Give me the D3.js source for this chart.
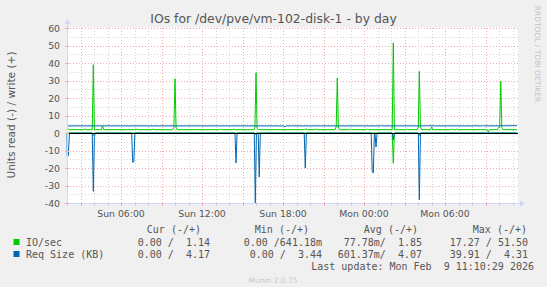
<!DOCTYPE html>
<html>
<head>
<meta charset="utf-8">
<script src="https://cdn.jsdelivr.net/npm/d3@7"></script>
<style>
  body { margin: 0; background: #f0f0f0; }
  svg { display: block; }
  text { font-family: "DejaVu Sans", sans-serif; fill: #555; }
  .mono { font-family: "DejaVu Sans Mono", monospace; font-size: 10px; white-space: pre; }
</style>
</head>
<body>
<div id="chart"></div>
<script>
// time is in hours since Sun 00:00
var yTicks = [-40, -30, -20, -10, 0, 10, 20, 30, 40, 50, 60];
var xTickHours = [6, 12, 18, 24, 30];
var xTickLabels = ["Sun 06:00", "Sun 12:00", "Sun 18:00", "Mon 00:00", "Mon 06:00"];

// IO/sec write (+)
var writeIO = [
  [2.00, 1.9], [2.06, 2.6], [2.15, 1.9],
  [3.25, 1.9], [3.33, 2.4], [3.41, 1.9],
  [3.87, 1.9], [3.95, 39.0], [4.03, 2.0], [4.11, 1.9],
  [4.55, 1.9], [4.63, 4.0], [4.71, 1.9],
  [7.03, 1.9], [7.11, 2.4], [7.19, 1.9],
  [8.29, 1.9], [8.37, 2.3], [8.45, 1.9],
  [9.84, 1.9], [9.92, 3.2], [10.00, 31.0], [10.08, 3.2], [10.16, 1.9],
  [13.31, 1.9], [13.39, 2.3], [13.47, 1.9],
  [14.29, 1.9], [14.37, 2.3], [14.45, 1.9],
  [15.84, 1.9], [15.92, 3.0], [16.00, 34.5], [16.08, 2.8], [16.16, 2.0], [16.30, 1.9],
  [19.62, 1.9], [19.70, 2.5], [19.78, 1.9],
  [20.36, 1.9], [20.44, 2.4], [20.52, 1.9],
  [21.86, 1.9], [21.94, 3.6], [22.02, 31.4], [22.10, 3.4], [22.18, 1.9],
  [22.93, 1.9], [23.01, 2.3], [23.09, 1.9],
  [24.12, 1.9], [24.20, 2.3], [24.28, 1.9],
  [26.09, 1.9], [26.17, 51.5], [26.25, 1.9],
  [27.08, 1.9], [27.16, 2.3], [27.24, 1.9],
  [27.94, 1.9], [28.02, 3.4], [28.10, 35.2], [28.18, 3.4], [28.26, 1.9],
  [28.93, 1.9], [29.01, 3.5], [29.09, 1.9],
  [30.42, 1.9], [30.50, 2.3], [30.58, 1.9], [30.79, 1.9], [30.87, 2.3], [30.95, 1.9],
  [33.13, 1.9], [33.21, 0.64], [33.29, 1.9],
  [33.89, 1.9], [33.97, 3.2], [34.05, 3.2], [34.13, 29.5], [34.21, 3.2], [34.29, 1.9],
  [35.33, 1.9]
];

// IO/sec read (-)
var readIO = [
  [2.00, 0], [3.87, 0], [3.95, 1.5], [4.03, 0],
  [15.92, 0], [16.00, 1.0], [16.08, 0],
  [26.09, 0], [26.17, 17.27], [26.25, 0],
  [28.02, 0], [28.10, 1.5], [28.18, 0],
  [35.33, 0]
];

// Req Size (KB) write (+)
var writeReq = [
  [2.00, 4.05], [5.03, 4.05], [5.11, 4.3], [5.19, 4.05],
  [18.07, 4.05], [18.15, 3.5], [18.23, 4.05], [18.64, 4.05], [18.72, 4.3], [18.80, 4.05],
  [25.23, 4.05], [25.31, 4.3], [25.39, 4.05],
  [28.56, 4.05], [28.64, 4.3], [28.72, 4.1], [28.81, 4.05], [28.89, 4.3], [28.97, 4.05],
  [32.22, 4.05], [32.30, 4.25], [32.38, 4.05], [32.71, 4.05], [32.79, 4.3], [32.87, 4.05],
  [35.33, 4.17]
];

// Req Size (KB) read (-)
var readReq = [
  [2.00, 0], [2.02, 13.4], [2.10, 13.0], [2.18, 0],
  [3.87, 0], [3.95, 33.4], [4.03, 2.0], [4.11, 0],
  [6.79, 0], [6.87, 16.8], [6.95, 16.5], [7.03, 0],
  [14.44, 0], [14.52, 17.1], [14.60, 0],
  [15.87, 0], [15.95, 39.91], [16.03, 0], [16.16, 0], [16.24, 25.1], [16.32, 0],
  [19.57, 0], [19.65, 20.0], [19.73, 0],
  [24.53, 0], [24.61, 22.0], [24.69, 22.9], [24.77, 0], [24.81, 0], [24.89, 8.0], [24.97, 0],
  [26.09, 0], [26.17, 3.8], [26.25, 0],
  [28.02, 0], [28.10, 38.1], [28.18, 0],
  [35.33, 0]
];

var legendNames = ["IO/sec", "Req Size (KB)"];
var legendHeaders = ["Cur (-/+)", "Min (-/+)", "Avg (-/+)", "Max (-/+)"];
var legendIO = ["0.00 /  1.14", "0.00 /641.18m", "77.78m/  1.85", "17.27 / 51.50"];
var legendReq = ["0.00 /  4.17", "0.00 /  3.44", "601.37m/  4.07", "39.91 /  4.31"];

var svgWidth = 547;
var svgHeight = 287;
var plot = { left: 67, right: 517, top: 28, bottom: 203 };
var green = "#00cc00";
var blue = "#0066b3";
var axisColor = "#cfd6f8";
var majorColor = "#f0aaaa";
var minorColor = "#d4d4d4";

var svg = d3.select("#chart")
  .append("svg")
  .attr("width", svgWidth)
  .attr("height", svgHeight);

svg.append("rect")
  .attr("width", svgWidth)
  .attr("height", svgHeight)
  .attr("fill", "#f0f0f0");

var xScale = d3.scaleLinear()
  .domain([2, 35.333])
  .range([plot.left, plot.right]);

var yScale = d3.scaleLinear()
  .domain([-40, 60])
  .range([plot.bottom, plot.top]);

// canvas
svg.append("rect")
  .attr("x", plot.left)
  .attr("y", plot.top - 0.5)
  .attr("width", plot.right - plot.left + 1)
  .attr("height", plot.bottom - plot.top + 0.5)
  .attr("fill", "#ffffff");

var px = function(v) { return Math.round(v) + 0.5; };

// minor grid
var minorY = d3.range(-35, 60, 10);
var minorX = d3.range(3, 36, 1).filter(function(h) { return h % 3 !== 0; });

var grid = svg.append("g");

grid.selectAll(".minorY")
  .data(minorY)
  .enter()
  .append("line")
  .attr("x1", plot.left)
  .attr("x2", plot.right + 1)
  .attr("y1", d => px(yScale(d)))
  .attr("y2", d => px(yScale(d)))
  .attr("stroke", minorColor)
  .attr("stroke-dasharray", "1,2");

grid.selectAll(".minorX")
  .data(minorX)
  .enter()
  .append("line")
  .attr("x1", d => px(xScale(d)))
  .attr("x2", d => px(xScale(d)))
  .attr("y1", plot.top)
  .attr("y2", plot.bottom)
  .attr("stroke", minorColor)
  .attr("stroke-dasharray", "1,2");

// major grid
grid.selectAll(".majorY")
  .data(yTicks)
  .enter()
  .append("line")
  .attr("x1", plot.left)
  .attr("x2", plot.right + 1)
  .attr("y1", d => px(yScale(d)))
  .attr("y2", d => px(yScale(d)))
  .attr("stroke", majorColor)
  .attr("stroke-dasharray", "1,2");

grid.selectAll(".majorX")
  .data(d3.range(3, 36, 3))
  .enter()
  .append("line")
  .attr("x1", d => px(xScale(d)))
  .attr("x2", d => px(xScale(d)))
  .attr("y1", plot.top)
  .attr("y2", plot.bottom)
  .attr("stroke", majorColor)
  .attr("stroke-dasharray", "1,2");

// series
var line = d3.line()
  .x(d => xScale(d[0]))
  .y(d => yScale(d[1]));

var negLine = d3.line()
  .x(d => xScale(d[0]))
  .y(d => yScale(-d[1]));

var series = svg.append("g").attr("fill", "none").attr("stroke-width", 1);

series.append("path").attr("d", negLine(readIO)).attr("stroke", green);
series.append("path").attr("d", line(writeIO)).attr("stroke", green);
series.append("path").attr("d", negLine(readReq)).attr("stroke", blue);
series.append("path").attr("d", line(writeReq)).attr("stroke", blue);

// zero rule
svg.append("line")
  .attr("x1", plot.left)
  .attr("x2", plot.right + 1)
  .attr("y1", px(yScale(0)))
  .attr("y2", px(yScale(0)))
  .attr("stroke", "#000000");

// axes
svg.append("line")
  .attr("x1", plot.left + 0.5)
  .attr("x2", plot.left + 0.5)
  .attr("y1", plot.bottom + 3)
  .attr("y2", plot.top - 5)
  .attr("stroke", axisColor);

svg.append("path")
  .attr("d", `M${plot.left - 2.5},${plot.top - 4} L${plot.left + 3.5},${plot.top - 4} L${plot.left + 0.5},${plot.top - 9} Z`)
  .attr("fill", axisColor);

svg.append("line")
  .attr("x1", plot.left - 3)
  .attr("x2", plot.right + 4)
  .attr("y1", plot.bottom + 0.5)
  .attr("y2", plot.bottom + 0.5)
  .attr("stroke", axisColor);

svg.append("path")
  .attr("d", `M${plot.right + 3},${plot.bottom - 2.5} L${plot.right + 3},${plot.bottom + 3.5} L${plot.right + 8},${plot.bottom + 0.5} Z`)
  .attr("fill", axisColor);

// axis ticks
svg.selectAll(".xtick")
  .data(d3.range(3, 36, 1))
  .enter()
  .append("line")
  .attr("x1", d => px(xScale(d)))
  .attr("x2", d => px(xScale(d)))
  .attr("y1", plot.bottom - 1)
  .attr("y2", plot.bottom + 3)
  .attr("stroke", d => d % 3 === 0 ? majorColor : minorColor);

svg.selectAll(".ytick")
  .data(yTicks)
  .enter()
  .append("line")
  .attr("x1", plot.left - 2)
  .attr("x2", plot.left + 2)
  .attr("y1", d => px(yScale(d)))
  .attr("y2", d => px(yScale(d)))
  .attr("stroke", majorColor);

// tick labels
svg.selectAll(".ylabel")
  .data(yTicks)
  .enter()
  .append("text")
  .attr("x", 60)
  .attr("y", d => yScale(d) + 3.5)
  .attr("text-anchor", "end")
  .style("font-size", "9.3px")
  .text(d => d);

svg.selectAll(".xlabel")
  .data(xTickHours)
  .enter()
  .append("text")
  .attr("x", d => xScale(d))
  .attr("y", 216.5)
  .attr("text-anchor", "middle")
  .style("font-size", "9.3px")
  .text((d, i) => xTickLabels[i]);

// title and side texts
svg.append("text")
  .attr("x", 273.5)
  .attr("y", 23)
  .attr("text-anchor", "middle")
  .style("font-size", "12.4px")
  .text("IOs for /dev/pve/vm-102-disk-1 - by day");

svg.append("text")
  .attr("transform", "translate(14.5, 115) rotate(-90)")
  .attr("text-anchor", "middle")
  .style("font-size", "10.6px")
  .text("Units read (-) / write (+)");

svg.append("text")
  .attr("transform", "translate(535, 54) rotate(90)")
  .attr("text-anchor", "middle")
  .style("font-size", "7.5px")
  .style("fill", "#c4c4c4")
  .text("RRDTOOL / TOBI OETIKER");

// legend
var valueEnds = [210, 322, 422, 528];
var headerEnds = [201, 309, 418, 527];

svg.selectAll(".lhead")
  .data(legendHeaders)
  .enter()
  .append("text")
  .attr("class", "mono")
  .attr("x", (d, i) => headerEnds[i])
  .attr("y", 232.5)
  .attr("text-anchor", "end")
  .text(d => d);

var rows = [legendIO, legendReq];
var colors = [green, blue];

rows.forEach(function(vals, r) {
  var y = 245.5 + r * 12;
  svg.append("rect")
    .attr("x", 13.5)
    .attr("y", y - 6.5)
    .attr("width", 6)
    .attr("height", 6)
    .attr("fill", colors[r]);
  svg.append("text")
    .attr("class", "mono")
    .attr("x", 26)
    .attr("y", y)
    .text(legendNames[r]);
  svg.selectAll(".lrow" + r)
    .data(vals)
    .enter()
    .append("text")
    .attr("class", "mono")
    .attr("x", (d, i) => valueEnds[i])
    .attr("y", y)
    .attr("text-anchor", "end")
    .text(d => d);
});

svg.append("text")
  .attr("class", "mono")
  .attr("x", 534)
  .attr("y", 269.5)
  .attr("text-anchor", "end")
  .text("Last update: Mon Feb  9 11:10:29 2026");

svg.append("text")
  .attr("x", 273)
  .attr("y", 283)
  .attr("text-anchor", "middle")
  .style("font-size", "7.5px")
  .style("fill", "#c8c8c8")
  .text("Munin 2.0.75");
</script>
</body>
</html>
